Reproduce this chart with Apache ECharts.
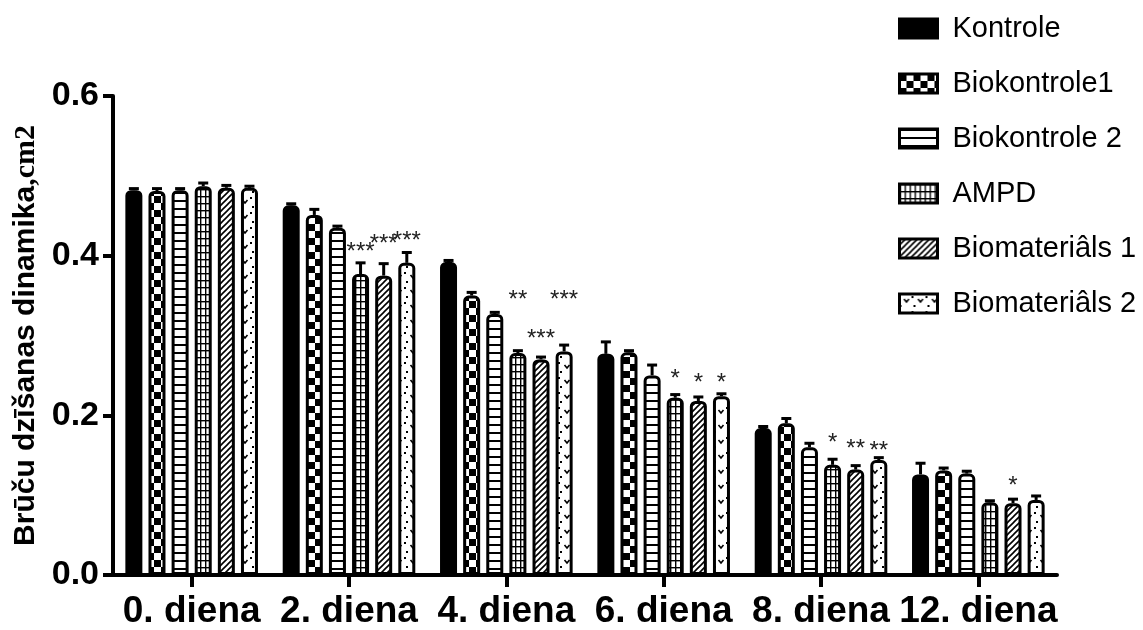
<!DOCTYPE html>
<html>
<head>
<meta charset="utf-8">
<script src="https://cdn.jsdelivr.net/npm/echarts@6/dist/echarts.min.js"></script>
<style>
html,body{margin:0;padding:0;background:#fff;}
#chart{width:1143px;height:630px;}
</style>
</head>
<body>
<div id="chart"></div>
<script>
// ---------- DATA ----------
const categories = ['0. diena', '2. diena', '4. diena', '6. diena', '8. diena', '12. diena'];
const seriesNames = ['Kontrole', 'Biokontrole1', 'Biokontrole 2', 'AMPD', 'Biomateriâls 1', 'Biomateriâls 2'];
const yTicks = [0.0, 0.2, 0.4, 0.6];

const kontrole      = [0.482, 0.463, 0.392, 0.277, 0.184, 0.126];
const biokontrole1  = [0.481, 0.451, 0.350, 0.279, 0.190, 0.131];
const biokontrole2  = [0.482, 0.435, 0.327, 0.250, 0.160, 0.127];
const ampd          = [0.487, 0.377, 0.278, 0.222, 0.138, 0.091];
const biomaterials1 = [0.485, 0.375, 0.270, 0.218, 0.132, 0.090];
const biomaterials2 = [0.485, 0.391, 0.280, 0.224, 0.144, 0.094];

const kontroleErr      = [0.002, 0.002, 0.002, 0.015, 0.002, 0.014];
const biokontrole1Err  = [0.003, 0.007, 0.004, 0.002, 0.006, 0.003];
const biokontrole2Err  = [0.002, 0.002, 0.002, 0.013, 0.005, 0.003];
const ampdErr          = [0.004, 0.014, 0.003, 0.004, 0.007, 0.002];
const biomaterials1Err = [0.003, 0.015, 0.003, 0.005, 0.005, 0.005];
const biomaterials2Err = [0.002, 0.013, 0.008, 0.003, 0.003, 0.005];

// significance marks and the value-axis height at which each is printed
const ampdStars          = ['', '***', '**', '*', '*', ''];
const ampdStarLevel      = [null, 0.412, 0.352, 0.253, 0.172, null];
const biomaterials1Stars = ['', '***', '***', '*', '**', '*'];
const biomaterials1StarLevel = [null, 0.422, 0.303, 0.247, 0.165, 0.118];
const biomaterials2Stars = ['', '***', '***', '*', '**', ''];
const biomaterials2StarLevel = [null, 0.425, 0.352, 0.248, 0.162, null];

// ---------- BUILD ----------
const values = [kontrole, biokontrole1, biokontrole2, ampd, biomaterials1, biomaterials2];
const errors = [kontroleErr, biokontrole1Err, biokontrole2Err, ampdErr, biomaterials1Err, biomaterials2Err];
const starSets = [
  {s: 3, marks: ampdStars, level: ampdStarLevel},
  {s: 4, marks: biomaterials1Stars, level: biomaterials1StarLevel},
  {s: 5, marks: biomaterials2Stars, level: biomaterials2StarLevel}
];

const BAR_W = 17;
const BAR_GAP = 0.36;
const PITCH = BAR_W * (1 + BAR_GAP);

function tile(w, h, draw) {
  const c = document.createElement('canvas');
  c.width = w; c.height = h;
  const g = c.getContext('2d');
  g.fillStyle = '#fff'; g.fillRect(0, 0, w, h);
  g.fillStyle = '#000'; g.strokeStyle = '#000';
  draw(g);
  return {image: c, repeat: 'repeat'};
}
const fills = [
  '#000',
  tile(14, 14, g => { g.fillRect(0, 0, 7, 7); g.fillRect(7, 7, 7, 7); }),
  tile(8, 8, g => { g.fillRect(0, 0, 8, 2); }),
  tile(5, 7, g => { g.fillRect(0, 0, 1.4, 7); g.fillRect(0, 0, 5, 1.4); }),
  tile(6, 6, g => { g.lineWidth = 1.6; g.beginPath(); g.moveTo(-1, 7); g.lineTo(7, -1); g.moveTo(-1, 1); g.lineTo(1, -1); g.moveTo(5, 7); g.lineTo(7, 5); g.stroke(); }),
  tile(14, 15, g => {
    g.lineWidth = 1.6; g.beginPath();
    g.moveTo(4.5, 5); g.lineTo(7, 8); g.lineTo(9.5, 5); g.stroke();
    g.fillRect(0, 11, 2, 2); g.fillRect(12, 2, 2, 2);
  })
];

const barSeries = seriesNames.map((name, i) => ({
  name: name,
  type: 'bar',
  data: values[i],
  barWidth: BAR_W,
  barGap: (BAR_GAP * 100) + '%',
  itemStyle: {color: fills[i], borderColor: '#000', borderWidth: 3, borderRadius: [4, 4, 0, 0]},
  emphasis: {disabled: true},
  z: 2
}));

const errData = [];
values.forEach((arr, s) => arr.forEach((v, c) => errData.push([c, v + errors[s][c], s, v])));

const errSeries = {
  type: 'custom',
  name: 'err',
  data: errData,
  encode: {x: 0, y: 1},
  z: 3,
  silent: true,
  renderItem: function (params, api) {
    const c = api.value(0), s = api.value(2), v = api.value(3), top = api.value(1);
    const off = (s - 2.5) * PITCH;
    const p0 = api.coord([c, v]);
    const p1 = api.coord([c, top]);
    const x = p0[0] + off;
    const st = {stroke: '#000', lineWidth: 3};
    return {
      type: 'group',
      children: [
        {type: 'line', shape: {x1: x, y1: p0[1], x2: x, y2: p1[1]}, style: st},
        {type: 'line', shape: {x1: x - 5, y1: p1[1], x2: x + 5, y2: p1[1]}, style: st}
      ]
    };
  }
};

const starData = [];
const starText = [];
starSets.forEach(set => set.marks.forEach((m, c) => {
  if (m) { starData.push([c, set.level[c], set.s]); starText.push(m); }
}));
const starSeries = {
  type: 'custom',
  name: 'stars',
  data: starData,
  encode: {x: 0, y: 1},
  z: 4,
  silent: true,
  renderItem: function (params, api) {
    const c = api.value(0), lvl = api.value(1), s = api.value(2);
    const p = api.coord([c, lvl]);
    return {
      type: 'text',
      x: p[0] + (s - 2.5) * PITCH,
      y: p[1] + 6,
      style: {text: starText[params.dataIndex], fill: '#222', font: '24px "Liberation Sans", Arial, sans-serif', align: 'center', verticalAlign: 'middle'}
    };
  }
};

const chart = echarts.init(document.getElementById('chart'), null, {renderer: 'canvas'});
chart.setOption({
  animation: false,
  backgroundColor: '#fff',
  grid: {left: 113, right: 86, top: 96, bottom: 55, containLabel: false},
  legend: {
    data: seriesNames,
    orient: 'vertical',
    left: 893,
    top: 9,
    itemWidth: 38,
    itemHeight: 19,
    itemGap: 26,
    icon: 'rect',
    itemStyle: {borderColor: '#000', borderWidth: 3},
    textStyle: {fontFamily: '"Liberation Sans", Arial, sans-serif', fontSize: 29, color: '#000', lineHeight: 28, padding: [0, 0, 0, 10]},
    selectedMode: false
  },
  xAxis: {
    type: 'category',
    data: categories,
    axisLine: {show: true, lineStyle: {color: '#000', width: 4}},
    axisTick: {show: true, alignWithLabel: true, length: 12, lineStyle: {color: '#000', width: 4}},
    axisLabel: {interval: 0, hideOverlap: false, color: '#000', fontFamily: '"Liberation Sans", Arial, sans-serif', fontWeight: 'bold', fontSize: 37, margin: 18},
    splitLine: {show: false}
  },
  yAxis: {
    type: 'value',
    min: yTicks[0],
    max: yTicks[yTicks.length - 1],
    interval: 0.2,
    axisLine: {show: true, lineStyle: {color: '#000', width: 4}},
    axisTick: {show: true, length: 10, lineStyle: {color: '#000', width: 4}},
    axisLabel: {color: '#000', fontFamily: '"Liberation Sans", Arial, sans-serif', fontWeight: 'bold', fontSize: 34, margin: 14, formatter: v => v.toFixed(1)},
    splitLine: {show: false},
    name: '{a|Brūču dzīšanas dinamika}{b|,cm2}',
    nameLocation: 'middle',
    nameRotate: 90,
    nameGap: 64,
    nameTextStyle: {
      rich: {
        a: {fontFamily: '"Liberation Sans", Arial, sans-serif', fontWeight: 'bold', fontSize: 30, color: '#000'},
        b: {fontFamily: '"Liberation Serif", "Times New Roman", serif', fontWeight: 'bold', fontSize: 30, color: '#000'}
      }
    }
  },
  series: barSeries.concat([errSeries, starSeries])
});
</script>
</body>
</html>
